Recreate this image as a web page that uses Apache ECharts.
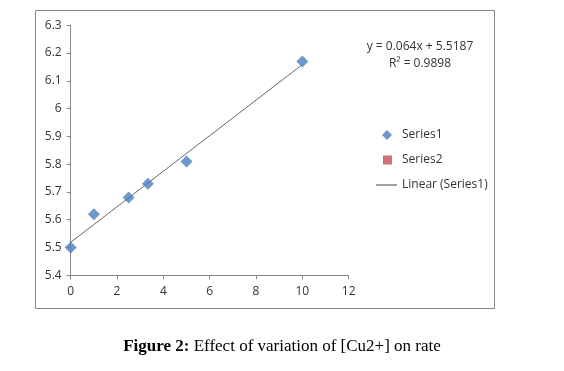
<!DOCTYPE html>
<html>
<head>
<meta charset="utf-8">
<script src="https://cdn.jsdelivr.net/npm/echarts@6/dist/echarts.min.js"></script>
<style>
html,body{margin:0;padding:0;background:#fff;}
#c{width:564px;height:371px;}
</style>
</head>
<body>
<div id="c"></div>
<script>
var xValues = [0, 1, 2.5, 3.33, 5, 10];
var yValues = [5.5, 5.62, 5.68, 5.73, 5.81, 6.17];
var trendSlope = 0.064;
var trendIntercept = 5.5187;
var trendX = [0, 10];
var rSquared = 0.9898;
var xTicks = [0, 2, 4, 6, 8, 10, 12];
var yTicks = [5.4, 5.5, 5.6, 5.7, 5.8, 5.9, 6, 6.1, 6.2, 6.3];

var series1Data = xValues.map(function (x, i) { return [x, yValues[i]]; });
var trendData = trendX.map(function (x) { return [x, +(trendSlope * x + trendIntercept).toFixed(4)]; });

var chart = echarts.init(document.getElementById('c'), null, {renderer: 'canvas'});
var axisFont = {fontFamily: 'Open Sans', fontSize: 12, color: '#333'};
var legendText = {fontFamily: 'Open Sans', fontSize: 12, color: '#333'};
var legendTextPad = {fontFamily: 'Open Sans', fontSize: 12, color: '#333', padding: [0, 0, 0, 5]};
chart.setOption({
  animation: false,
  backgroundColor: '#fff',
  grid: {left: 70.7, right: 215.3, top: 25.3, bottom: 95.7},
  xAxis: {
    type: 'value', min: 0, max: 12, interval: 2,
    axisLine: {show: true, onZero: false, lineStyle: {color: '#868686', width: 1}},
    axisTick: {show: true, length: 4, lineStyle: {color: '#868686'}},
    splitLine: {show: false},
    axisLabel: Object.assign({margin: 10}, axisFont)
  },
  yAxis: {
    type: 'value', min: 5.4, max: 6.3, interval: 0.1,
    axisLine: {show: true, onZero: false, lineStyle: {color: '#868686', width: 1}},
    axisTick: {show: true, length: 4, lineStyle: {color: '#868686'}},
    splitLine: {show: false},
    axisLabel: Object.assign({margin: 9, formatter: function (v) { return String(+v.toFixed(1)); }}, axisFont)
  },
  legend: [
    {left: 382, top: 129, padding: 0, itemWidth: 10, itemHeight: 10, itemGap: 0, textStyle: legendTextPad,
     data: [{name: 'Series1', icon: 'diamond'}]},
    {left: 383, top: 154, padding: 0, itemWidth: 9, itemHeight: 9, itemGap: 0, textStyle: legendTextPad,
     data: [{name: 'Series2', icon: 'rect'}]},
    {left: 376, top: 179, padding: 0, itemWidth: 21, itemHeight: 1, itemGap: 0, textStyle: legendText,
     data: [{name: 'Linear (Series1)', icon: 'rect', itemStyle: {color: '#404040'}}]}
  ],
  series: [
    {
      name: 'Linear (Series1)', type: 'line', data: trendData, symbol: 'none',
      lineStyle: {color: '#404040', width: 0.8}, itemStyle: {color: '#404040'}, z: 1
    },
    {
      name: 'Series1', type: 'scatter', data: series1Data, symbol: 'diamond', symbolSize: 12,
      itemStyle: {color: '#4a7ebb'}, z: 3
    },
    {
      name: 'Series2', type: 'scatter', data: [], symbol: 'rect', symbolSize: 9,
      itemStyle: {color: '#c0504d'}
    }
  ],
  graphic: [
    {type: 'rect', shape: {x: 35.5, y: 10.5, width: 459, height: 298},
     style: {fill: 'none', stroke: '#868686', lineWidth: 1}, z: -1},
    {type: 'text', x: 420, y: 41,
     style: {text: 'y = ' + trendSlope + 'x + ' + trendIntercept, fontFamily: 'Open Sans', fontSize: 12, fill: '#333', align: 'center'}},
    {type: 'text', x: 420, y: 58,
     style: {text: 'R² = ' + rSquared, fontFamily: 'Open Sans', fontSize: 12, fill: '#333', align: 'center'}},
    {type: 'text', x: 282, y: 338,
     style: {
       text: '{b|Figure 2:} Effect of variation of [Cu2+] on rate',
       align: 'center', fontFamily: 'Liberation Serif', fontSize: 17, fill: '#000',
       rich: {b: {fontWeight: 'bold', fontFamily: 'Liberation Serif', fontSize: 17, fill: '#000'}}
     }}
  ]
});
</script>
</body>
</html>
